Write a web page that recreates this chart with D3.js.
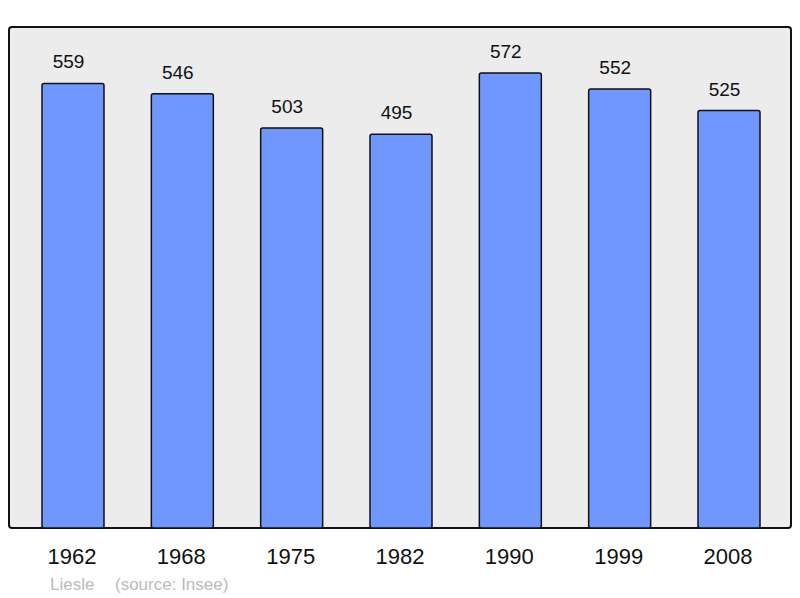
<!DOCTYPE html>
<html><head><meta charset="utf-8">
<script src="https://cdn.jsdelivr.net/npm/d3@7"></script>
<style>body{margin:0;background:#fff;}svg{display:block;}</style>
</head><body>
<script>
const years = ["1962","1968","1975","1982","1990","1999","2008"];
const population = [559,546,503,495,572,552,525];
const commune = "Liesle";
const sourceText = "(source: Insee)";

const W = 800, H = 598;
const svg = d3.select("body").append("svg").attr("width", W).attr("height", H);
const panel = {x0: 9, x1: 791, y0: 27, y1: 528};
const FONT = "Liberation Sans, Arial, sans-serif";

svg.append("rect").attr("x", panel.x0).attr("y", panel.y0)
  .attr("width", panel.x1 - panel.x0).attr("height", panel.y1 - panel.y0)
  .attr("rx", 3).attr("fill", "#ececec").attr("stroke", "#111").attr("stroke-width", 2);

const x = d3.scaleBand().domain(years).range([9.2, 792.8]).paddingInner(0.433).paddingOuter(0.3);
const y = d3.scaleLinear().domain([0, 630]).range([panel.y1, panel.y0]);

svg.selectAll("rect.bar").data(years).enter().append("rect").attr("class","bar")
  .attr("x", d => x(d)).attr("width", x.bandwidth())
  .attr("y", (d,i) => y(population[i])).attr("height", (d,i) => y(0) - y(population[i]))
  .attr("rx", 2).attr("fill", "#7097ff").attr("stroke", "#111").attr("stroke-width", 1.5);

svg.selectAll("text.val").data(years).enter().append("text").attr("class","val")
  .attr("x", d => x(d) + x.bandwidth()/2 - 4.5).attr("y", (d,i) => y(population[i]) - 15)
  .attr("text-anchor","middle").attr("font-family", FONT)
  .attr("font-size", 19).attr("fill","#111").text((d,i) => population[i]);

svg.selectAll("text.yr").data(years).enter().append("text").attr("class","yr")
  .attr("x", d => x(d) + x.bandwidth()/2 - 1).attr("y", 563.5)
  .attr("text-anchor","middle").attr("font-family", FONT)
  .attr("font-size", 22).attr("fill","#111").text(d => d);

svg.append("text").attr("x", 50).attr("y", 590).attr("font-family", FONT)
  .attr("font-size", 17).attr("fill","#bbb").text(commune);
svg.append("text").attr("x", 115).attr("y", 590).attr("font-family", FONT)
  .attr("font-size", 17).attr("fill","#bbb").text(sourceText);
</script>
</body></html>
